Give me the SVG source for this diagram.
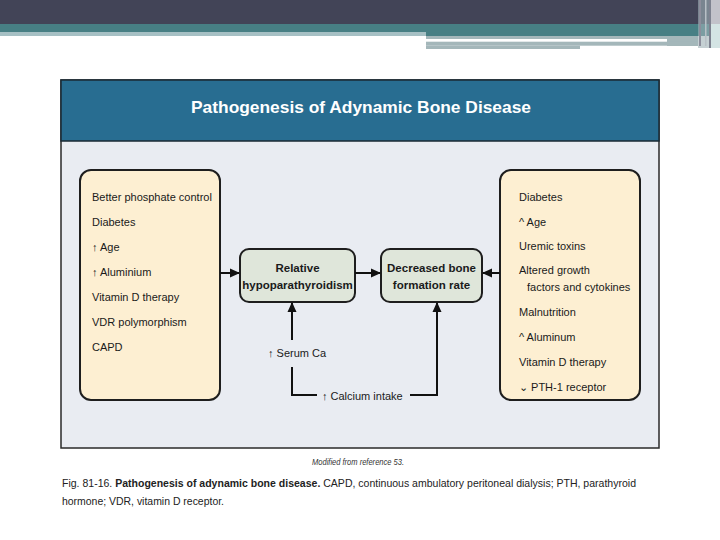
<svg xmlns="http://www.w3.org/2000/svg" width="720" height="540" viewBox="0 0 720 540">
<style>
.t{font-family:"Liberation Sans",Arial,sans-serif;font-size:11px;fill:#1a1a1a}
.b{font-family:"Liberation Sans",Arial,sans-serif;font-size:11.5px;font-weight:bold;fill:#1a1a1a;text-anchor:middle}
.cap{font-family:"Liberation Sans",Arial,sans-serif;font-size:11.5px;fill:#222}
.side{fill:#fdefd2;stroke:#1e1e1e;stroke-width:2}
.mid{fill:#dfe6da;stroke:#1e1e1e;stroke-width:2}
.c{fill:none;stroke:#111;stroke-width:2}
</style>
<defs>
<marker id="ah" markerUnits="userSpaceOnUse" markerWidth="10" markerHeight="10" refX="9" refY="5" orient="auto">
<path d="M0,0.5 L10,5 L0,9.5 Z" fill="#111"/>
</marker>
</defs>
<rect width="720" height="540" fill="#ffffff"/>
<g id="banner">
<rect x="0" y="0" width="720" height="24" fill="#424457"/>
<rect x="0" y="24" width="720" height="12" fill="#477f84"/>
<rect x="0" y="32" width="426" height="4" fill="#a6c0c4"/>
<rect x="426" y="36" width="241" height="3" fill="#a4b7ba"/>
<rect x="667" y="36" width="31" height="10" fill="#a4b7ba"/>
<rect x="426" y="41.7" width="272" height="4" fill="#a4b7ba"/>
<rect x="426" y="45.7" width="154" height="3.3" fill="#a4b7ba"/>
<rect x="698" y="0" width="14" height="48" fill="#9fb0b6" opacity="0.6"/>
<rect x="699" y="0" width="2" height="46" fill="#8c8e9c"/>
<rect x="705" y="0" width="1.5" height="46" fill="#b8c0c6"/>
<rect x="709" y="0" width="2" height="48" fill="#7e8290"/>
<rect x="711" y="0" width="9" height="24" fill="#c2c2ca"/>
<rect x="711" y="24" width="9" height="24" fill="#d4e4e4"/>
</g>
<g id="frame">
<rect x="61" y="80" width="598" height="368" fill="#e9ecf2" stroke="#2a2a2a" stroke-width="1.5"/>
<rect x="61" y="80" width="598" height="61" fill="#286d91" stroke="#1a2a35" stroke-width="1.5"/>
<text x="361" y="113" text-anchor="middle" textLength="340" lengthAdjust="spacingAndGlyphs" style="font-family:'Liberation Sans',Arial,sans-serif;font-size:17px;font-weight:bold;fill:#ffffff">Pathogenesis of Adynamic Bone Disease</text>
</g>
<g id="left-factors">
<rect class="side" x="80" y="170" width="140" height="230" rx="11"/>
<text class="t" x="92" y="201">Better phosphate control</text>
<text class="t" x="92" y="226">Diabetes</text>
<text class="t" x="92" y="251">↑ Age</text>
<text class="t" x="92" y="276">↑ Aluminium</text>
<text class="t" x="92" y="301">Vitamin D therapy</text>
<text class="t" x="92" y="326">VDR polymorphism</text>
<text class="t" x="92" y="351">CAPD</text>
</g>
<g id="relative-hypoparathyroidism">
<rect class="mid" x="240" y="249" width="115" height="53" rx="9"/>
<text class="b" x="297.5" y="272">Relative</text>
<text class="b" x="297.5" y="289">hypoparathyroidism</text>
</g>
<g id="decreased-bone-formation">
<rect class="mid" x="381" y="249" width="101" height="53" rx="9"/>
<text class="b" x="431.5" y="272">Decreased bone</text>
<text class="b" x="431.5" y="289">formation rate</text>
</g>
<g id="right-factors">
<rect class="side" x="500" y="170" width="140" height="230" rx="11"/>
<text class="t" x="519" y="201">Diabetes</text>
<text class="t" x="519" y="226">^ Age</text>
<text class="t" x="519" y="250">Uremic toxins</text>
<text class="t" x="519" y="274">Altered growth</text>
<text class="t" x="527" y="291">factors and cytokines</text>
<text class="t" x="519" y="316">Malnutrition</text>
<text class="t" x="519" y="341">^ Aluminum</text>
<text class="t" x="519" y="366">Vitamin D therapy</text>
<text class="t" x="519" y="391">⌄ PTH-1 receptor</text>
</g>
<g id="serum-ca">
<text class="t" x="268" y="357">↑ Serum Ca</text>
</g>
<g id="calcium-intake">
<text class="t" x="322" y="400">↑ Calcium intake</text>
</g>
<g id="connectors">
<path class="c" d="M220,273 H239" marker-end="url(#ah)"/>
<path class="c" d="M355,273 H380" marker-end="url(#ah)"/>
<path class="c" d="M500,273 H483" marker-end="url(#ah)"/>
<path class="c" d="M292,340 V303" marker-end="url(#ah)"/>
<path class="c" d="M292,367 V395 H317"/>
<path class="c" d="M410,395 H437 V303" marker-end="url(#ah)"/>
</g>
<g id="caption">
<text x="358" y="465" text-anchor="middle" textLength="92" lengthAdjust="spacingAndGlyphs" style="font-family:'Liberation Sans',Arial,sans-serif;font-size:8.5px;font-style:italic;fill:#333">Modified from reference 53.</text>
<text class="cap" x="62" y="487" textLength="574" lengthAdjust="spacingAndGlyphs">Fig. 81-16. <tspan font-weight="bold">Pathogenesis of adynamic bone disease.</tspan> CAPD, continuous ambulatory peritoneal dialysis; PTH, parathyroid</text>
<text class="cap" x="62" y="505" textLength="162" lengthAdjust="spacingAndGlyphs">hormone; VDR, vitamin D receptor.</text>
</g>
</svg>
